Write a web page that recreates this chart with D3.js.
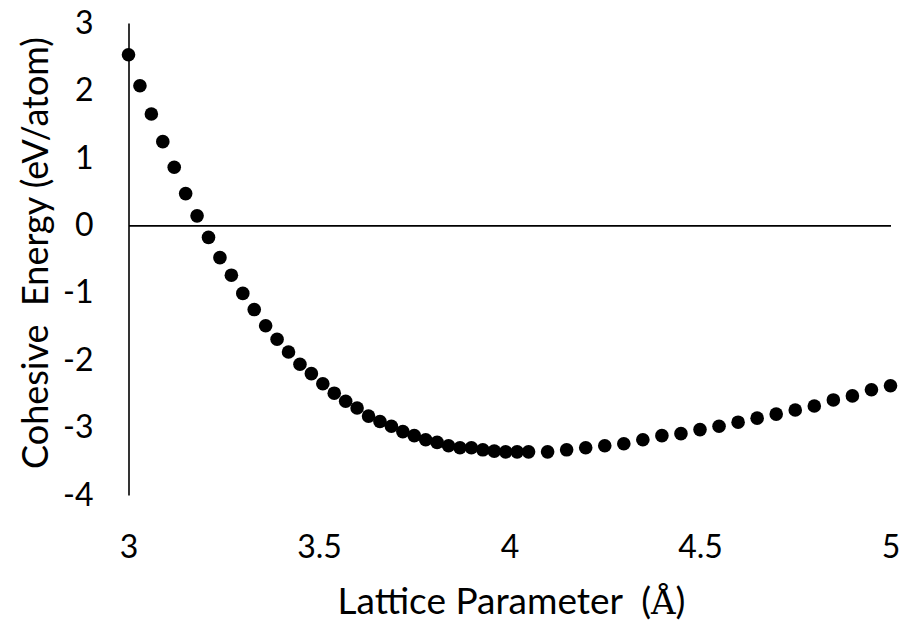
<!DOCTYPE html>
<html>
<head>
<meta charset="utf-8">
<script src="https://cdn.jsdelivr.net/npm/d3@7"></script>
<style>
  body { margin: 0; background: #fff; }
  svg text { font-family: Lato, "Open Sans", sans-serif; fill: #000; }
</style>
</head>
<body>
<script>
// lattice parameter (Å) and cohesive energy (eV/atom)
var latticeParam = [3.00, 3.03, 3.06, 3.09, 3.12, 3.15, 3.18, 3.21, 3.24, 3.27,
                    3.30, 3.33, 3.36, 3.39, 3.42, 3.45, 3.48, 3.51, 3.54, 3.57,
                    3.60, 3.63, 3.66, 3.69, 3.72, 3.75, 3.78, 3.81, 3.84, 3.87,
                    3.90, 3.93, 3.96, 3.99, 4.02, 4.05, 4.10, 4.15, 4.20, 4.25,
                    4.30, 4.35, 4.40, 4.45, 4.50, 4.55, 4.60, 4.65, 4.70, 4.75,
                    4.80, 4.85, 4.90, 4.95, 5.00];
var cohesiveEnergy = [2.53, 2.07, 1.65, 1.24, 0.86, 0.47, 0.14, -0.18, -0.48, -0.74,
                      -1.01, -1.25, -1.49, -1.69, -1.88, -2.06, -2.20, -2.35, -2.49, -2.61,
                      -2.71, -2.83, -2.91, -2.98, -3.06, -3.12, -3.18, -3.22, -3.27, -3.30,
                      -3.30, -3.33, -3.35, -3.36, -3.36, -3.36, -3.36, -3.33, -3.30, -3.27,
                      -3.24, -3.18, -3.12, -3.09, -3.03, -2.98, -2.92, -2.86, -2.80, -2.74,
                      -2.68, -2.59, -2.53, -2.44, -2.38];
var xTicks = [3, 3.5, 4, 4.5, 5];
var yTicks = [-4, -3, -2, -1, 0, 1, 2, 3];

var width = 904,
    height = 623;

var svg = d3.select("body")
    .append("svg")
    .attr("width", width)
    .attr("height", height);

var x = d3.scaleLinear()
    .domain([3, 5])
    .range([128.5, 890.5]);

var y = d3.scaleLinear()
    .domain([-4, 3])
    .range([495, 23]);

var points = latticeParam.map(function(d, i) {
    return {a: d, e: cohesiveEnergy[i]};
});

// plain hyphen for negatives, like the original
var fmt = function(d) { return String(d); };

// y axis: the vertical line at x = 3, labels on the left, no tick marks
var yAxis = svg.append("g")
    .attr("transform", "translate(" + x(3) + ",0)")
    .call(d3.axisLeft(y).tickValues(yTicks).tickSize(0).tickSizeOuter(0).tickPadding(35)
        .tickFormat(fmt));
yAxis.select(".domain").attr("stroke", "#000").attr("stroke-width", 1.6);
yAxis.selectAll("text").style("font-size", "32px").attr("font-family", null);

// zero line (horizontal axis crosses at 0)
var zeroLine = svg.append("g")
    .attr("transform", "translate(0," + y(0) + ")")
    .call(d3.axisBottom(x).tickValues([]).tickSizeOuter(0));
zeroLine.select(".domain").attr("stroke", "#000").attr("stroke-width", 1.8);

// x labels sit at the bottom of the plot
var xAxis = svg.append("g")
    .attr("transform", "translate(0," + y(-4) + ")")
    .call(d3.axisBottom(x).tickValues(xTicks).tickSize(0).tickPadding(40)
        .tickFormat(fmt));
xAxis.select(".domain").remove();
xAxis.selectAll("text").style("font-size", "32px").attr("font-family", null);

svg.selectAll(".dot")
    .data(points)
    .enter()
    .append("circle")
    .attr("class", "dot")
    .attr("cx", function(d) { return x(d.a); })
    .attr("cy", function(d) { return y(d.e); })
    .attr("r", 6.8)
    .attr("fill", "#000");

// axis titles
var xTitle = svg.append("text")
    .attr("x", (x(3) + x(5)) / 2 + 2)
    .attr("y", 614)
    .attr("text-anchor", "middle")
    .style("font-size", "37px")
    .style("white-space", "pre")
    .text("Lattice Parameter  (");
xTitle.append("tspan")
    .style("font-family", "'DejaVu Serif', 'Liberation Serif', serif")
    .style("font-size", "34px")
    .text("Å");
xTitle.append("tspan").text(")");

svg.append("text")
    .attr("transform", "translate(48," + ((y(3) + y(-4)) / 2 - 6) + ") rotate(-90)")
    .attr("text-anchor", "middle")
    .style("font-size", "36px")
    .style("white-space", "pre")
    .text("Cohesive  Energy (eV/atom)");
</script>
</body>
</html>
